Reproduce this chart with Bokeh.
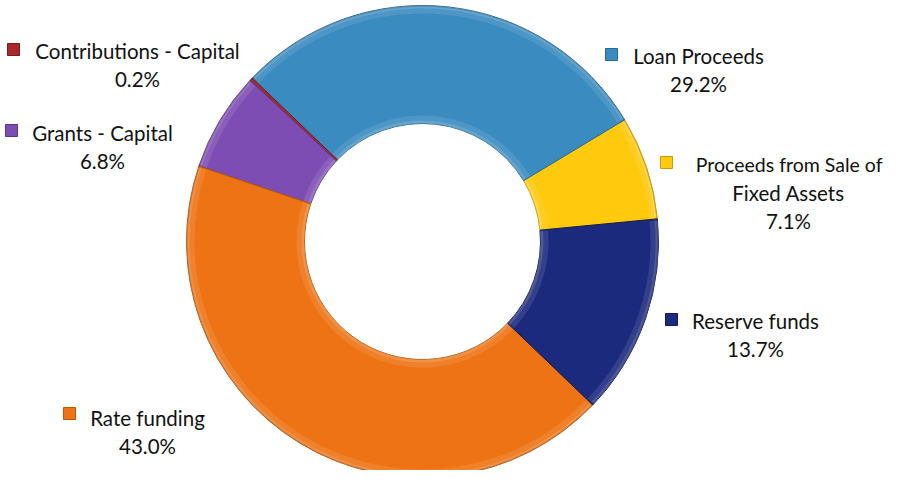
import math
from bokeh.plotting import figure
from bokeh.models import Range1d
from bokeh.core.properties import value
from bokeh.embed import file_html
from bokeh.resources import INLINE

# ---- data ----
categories = ["Proceeds from Sale of Fixed Assets", "Loan Proceeds", "Contributions - Capital",
              "Grants - Capital", "Rate funding", "Reserve funds"]
shares = [7.1, 29.2, 0.2, 6.8, 43.0, 13.7]
colors = ["#FFC90E", "#3A8BC0", "#A8282C", "#7D4DB3", "#EE7314", "#1C2A7E"]
edge_colors = ["#C89A00", "#2A6A96", "#7A1A1E", "#5A3488", "#B85808", "#101A55"]
label_lines = [["Proceeds from Sale of", "Fixed Assets"], ["Loan Proceeds"], ["Contributions - Capital"],
               ["Grants - Capital"], ["Rate funding"], ["Reserve funds"]]

# ---- layout (page pixel coordinates) ----
W, H = 884, 470
def Y(py):
    return 486 - py

cx, cy = 430, Y(249)
R_out, R_in = 236, 118
start_deg = 5.5

# marker (x, y), text centre x, first line y
label_pos = [
    ((674, 170), 796, 172),
    ((619, 62), 706, 63),
    ((21, 57), 145, 58),
    ((19, 138), 110, 140),
    ((77, 421), 155, 425),
    ((679, 327), 763, 328),
]
line_gap = 28
right_limit = 890

p = figure(width=W, height=H, output_backend="svg", toolbar_location=None,
           x_range=Range1d(8, 8 + W), y_range=Range1d(486 - 8 - H, 486 - 8),
           min_border=0, outline_line_color=None)
p.axis.visible = False
p.grid.visible = False
p.background_fill_color = "white"
p.border_fill_color = "white"

# wedges
total = sum(shares)
starts, ends = [], []
a = math.radians(start_deg)
for s in shares:
    starts.append(a)
    a += 2 * math.pi * s / total
    ends.append(a)

p.annular_wedge(x=[cx] * len(shares), y=[cy] * len(shares), inner_radius=R_in, outer_radius=R_out,
                start_angle=starts, end_angle=ends, direction="anticlock",
                fill_color=colors, line_color=edge_colors, line_width=1)

# bevel-like highlights
for r0, r1, al in [(R_out - 3, R_out, 0.22), (R_out - 8, R_out - 3, 0.10),
                   (R_in, R_in + 3, 0.22), (R_in + 3, R_in + 8, 0.10)]:
    p.annular_wedge(x=[cx] * len(shares), y=[cy] * len(shares), inner_radius=r0, outer_radius=r1,
                    start_angle=[s + 0.006 for s in starts], end_angle=[max(e - 0.006, s + 0.0061) for s, e in zip(starts, ends)],
                    direction="anticlock", fill_color="white", fill_alpha=al, line_color=None)
# subtle darker outer rim
p.annulus(x=[cx], y=[cy], inner_radius=R_out - 1.2, outer_radius=R_out, fill_color="black",
          fill_alpha=0.12, line_color=None)

# labels
mx, my, tx, ty, tt = [], [], [], [], []
rx, ry, rt = [], [], []
for (m, tcx, ly), lines, s in zip(label_pos, label_lines, shares):
    mx.append(m[0]); my.append(Y(m[1]))
    allines = lines + [f"{s:.1f}%"]
    for i, t in enumerate(allines):
        if i == 0 and len(lines) > 1:
            # long first line: keep it inside the right edge
            rx.append(right_limit); ry.append(Y(ly)); rt.append(t)
        else:
            tx.append(tcx); ty.append(Y(ly + i * line_gap)); tt.append(t)

p.scatter(x=mx, y=my, marker="square", size=12, fill_color=colors, line_color=edge_colors, line_width=1)
p.text(x=tx, y=ty, text=tt, text_font=value("Lato"), text_font_size=value("20.5px"),
       text_align="center", text_baseline="middle", text_color="#111111")
p.text(x=rx, y=ry, text=rt, text_font=value("Lato"), text_font_size=value("19.5px"),
       text_align="right", text_baseline="middle", text_color="#111111")

open("out.html", "w").write(file_html(p, INLINE))
